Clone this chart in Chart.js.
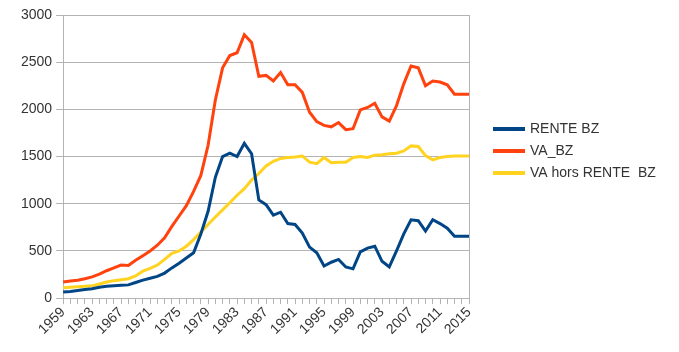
<!DOCTYPE html>
<html>
<head>
<meta charset="utf-8">
<script src="https://cdn.jsdelivr.net/npm/chart.js@4/dist/chart.umd.min.js"></script>
<style>
  html, body { margin: 0; padding: 0; background: #fff; }
  #wrap { width: 679px; height: 352px; }
</style>
</head>
<body>
<div id="wrap"><canvas id="va-chart"></canvas></div>
<script>
var years = [];
for (var y = 1959; y <= 2015; y++) years.push(String(y));

var renteBZ = [64, 70, 80, 90, 100, 115, 125, 132, 136, 140,
  165, 190, 210, 230, 265, 320, 370, 425, 480, 680,
  920, 1280, 1500, 1535, 1500, 1640, 1530, 1040, 990, 880,
  910, 790, 780, 690, 540, 480, 340, 380, 410, 330,
  310, 490, 530, 550, 390, 330, 500, 680, 830, 820,
  710, 830, 790, 740, 655, 655, 655];

var vaBZ = [170, 180, 190, 205, 225, 255, 290, 320, 350, 345,
  400, 450, 500, 560, 640, 760, 870, 980, 1130, 1300,
  1620, 2100, 2440, 2570, 2600, 2790, 2710, 2350, 2360, 2300,
  2390, 2260, 2260, 2180, 1970, 1870, 1830, 1815, 1860, 1785,
  1795, 1995, 2020, 2065, 1920, 1875, 2040, 2270, 2460, 2440,
  2250, 2300, 2290, 2260, 2160, 2160, 2160];

var vaHorsRente = [110, 115, 120, 125, 130, 150, 170, 185, 195, 205,
  235, 285, 315, 350, 410, 475, 500, 550, 620, 700,
  780, 860, 935, 1010, 1090, 1160, 1250, 1320, 1400, 1450,
  1480, 1490, 1495, 1506, 1440, 1425, 1490, 1435, 1440, 1440,
  1490, 1500, 1490, 1515, 1520, 1530, 1535, 1560, 1613, 1606,
  1510, 1465, 1490, 1500, 1506, 1506, 1506];

var yTicks = [0, 500, 1000, 1500, 2000, 2500, 3000];

var gridColor = '#b3b3b3';
var textColor = '#333';

function serie(label, data, color) {
  return {
    label: label,
    data: data,
    borderColor: color,
    backgroundColor: color,
    borderWidth: 3,
    pointRadius: 0,
    tension: 0,
    fill: false
  };
}

// legend drawn by hand on the right, the built-in one gets squeezed
var sideLegend = {
  id: 'sideLegend',
  afterDraw: function (chart) {
    var ctx = chart.ctx;
    var x0 = chart.chartArea.right + 24;
    var y0 = 129;
    ctx.save();
    ctx.font = '14px "Liberation Sans", Arial, sans-serif';
    ctx.textBaseline = 'middle';
    chart.data.datasets.forEach(function (ds, i) {
      var yy = y0 + i * 22;
      ctx.fillStyle = ds.borderColor;
      ctx.fillRect(x0, yy - 2, 32, 4);
      ctx.fillStyle = textColor;
      ctx.fillText(ds.label, x0 + 37, yy);
    });
    ctx.restore();
  }
};

function initChart() {
  Chart.defaults.font.family = '"Liberation Sans", Arial, sans-serif';
  Chart.defaults.font.size = 14;
  Chart.defaults.color = textColor;

  new Chart(document.getElementById('va-chart'), {
    type: 'line',
    data: {
      labels: years,
      datasets: [
        serie('RENTE BZ', renteBZ, '#004586'),
        serie('VA_BZ', vaBZ, '#ff420e'),
        serie('VA hors RENTE  BZ', vaHorsRente, '#ffd320')
      ]
    },
    options: {
      responsive: true,
      maintainAspectRatio: false,
      animation: false,
      layout: {
        padding: { left: 17, right: 210, top: 15, bottom: 14 }
      },
      plugins: {
        legend: { display: false },
        tooltip: { enabled: false }
      },
      scales: {
        x: {
          offset: false,
          grid: {
            drawOnChartArea: false,
            color: gridColor,
            tickLength: 6
          },
          border: { color: gridColor },
          ticks: {
            autoSkip: false,
            maxRotation: 45,
            minRotation: 45,
            padding: 0,
            callback: function (value, index) {
              return index % 4 === 0 ? years[index] : '';
            }
          }
        },
        y: {
          min: 0,
          max: 3000,
          afterBuildTicks: function (axis) {
            axis.ticks = yTicks.map(function (v) { return { value: v }; });
          },
          grid: {
            color: gridColor,
            tickLength: 7
          },
          border: { color: gridColor },
          ticks: {
            padding: 4,
            callback: function (value) { return String(value); }
          }
        },
        yRight: {
          position: 'right',
          min: 0,
          max: 3000,
          grid: { drawOnChartArea: false, drawTicks: false },
          border: { color: gridColor },
          ticks: { display: false }
        }
      }
    },
    plugins: [sideLegend]
  });
}

initChart();
</script>
</body>
</html>
